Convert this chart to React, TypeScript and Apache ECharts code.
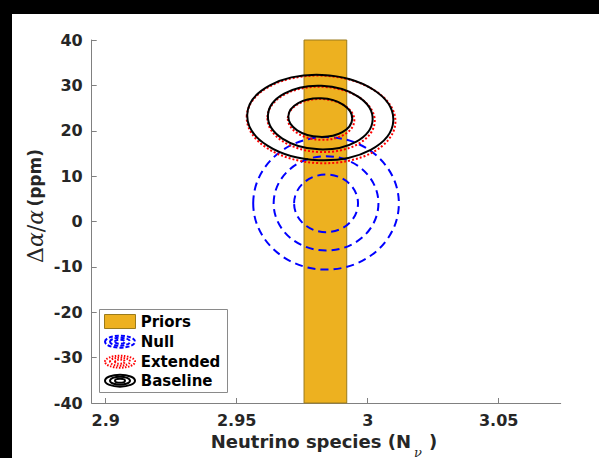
import React, { useEffect, useRef } from "react";
import * as echarts from "echarts";

// ---- data ----
const xTicks = [2.9, 2.95, 3, 3.05];
const xRange = [2.89466, 3.07366];
const yRange = [-40, 40];

const priorsX = [2.9757, 2.992];
const priorsY = [-40, 40];

const nullCenter = [2.9841, 4.0];
const nullRx = [0.0278, 0.02, 0.0122];
const nullRy = [14.6, 10.4, 6.35];

const extendedCenter = [2.9822, 22.5];
const extendedRx = [0.0284, 0.0205, 0.0127];
const extendedRy = [9.65, 7.2, 4.5];

const baselineCenter = [2.9819, 22.9];
const baselineRx = [0.0279, 0.02, 0.0122];
const baselineRy = [9.4, 7.0, 4.25];
const tilt = -0.04;

const legendNames = ["Priors", "Null", "Extended", "Baseline"];

const FONT = "DejaVu Sans";

function ellipseData(c: number[], rx: number[], ry: number[], rot: number) {
  return rx.map((r, i) => [c[0], c[1], r, ry[i], rot]);
}

function ellipseSeries(name: string, data: number[][], style: any) {
  return {
    type: "custom",
    name,
    encode: { x: 0, y: 1 },
    data,
    clip: false,
    renderItem: (params: any, api: any) => {
      const c = api.coord([api.value(0), api.value(1)]);
      const s = api.size([api.value(2), api.value(3)]);
      return {
        type: "ellipse",
        x: c[0],
        y: c[1],
        rotation: api.value(4),
        shape: { cx: 0, cy: 0, rx: s[0], ry: s[1] },
        style: { fill: "none", ...style },
      };
    },
  };
}

function legendIcon(cx: number, cy: number, style: any, n: number) {
  const els: any[] = [];
  const rxs = [15, 10, 5];
  const rys = [6, 4, 2];
  for (let i = 0; i < n; i++) {
    els.push({
      type: "ellipse",
      shape: { cx, cy, rx: rxs[i], ry: rys[i] },
      style: { fill: "none", ...style },
    });
  }
  return els;
}

export default function App() {
  const ref = useRef<HTMLDivElement>(null);
  useEffect(() => {
    if (!ref.current) return;
    const chart = echarts.init(ref.current, null, { renderer: "svg" });
    const axisLine = { show: true, onZero: false, lineStyle: { color: "#808080", width: 1 } };
    const labelStyle = { color: "#262626", fontFamily: FONT, fontWeight: "bold" as const, fontSize: 16 };
    const rowY = [321.7, 341.7, 361.7, 380.7];
    const option: any = {
      animation: false,
      backgroundColor: "#ffffff",
      grid: { left: 91.7, right: 38.3, top: 40, bottom: 55, containLabel: false },
      xAxis: {
        type: "value",
        min: xRange[0],
        max: xRange[1],
        axisLine,
        axisTick: { show: true, inside: true, length: 5, lineStyle: { color: "#808080" }, customValues: xTicks },
        axisLabel: { ...labelStyle, margin: 9, customValues: xTicks, formatter: (v: number) => String(+v.toFixed(2)) },
        splitLine: { show: false },
      },
      yAxis: {
        type: "value",
        min: yRange[0],
        max: yRange[1],
        interval: 10,
        axisLine,
        axisTick: { show: true, inside: true, length: 5, lineStyle: { color: "#808080" } },
        axisLabel: { ...labelStyle, margin: 9 },
        splitLine: { show: false },
      },
      series: [
        {
          type: "custom",
          name: legendNames[0],
          encode: { x: [0, 1], y: [2, 3] },
          data: [[priorsX[0], priorsX[1], priorsY[0], priorsY[1]]],
          renderItem: (params: any, api: any) => {
            const p0 = api.coord([api.value(0), api.value(3)]);
            const p1 = api.coord([api.value(1), api.value(2)]);
            return {
              type: "rect",
              shape: { x: p0[0], y: p0[1], width: p1[0] - p0[0], height: p1[1] - p0[1] },
              style: { fill: "#EDB120", stroke: "#9a7b1c", lineWidth: 1 },
            };
          },
        },
        ellipseSeries(legendNames[1], ellipseData(nullCenter, nullRx, nullRy, 0), {
          stroke: "#0000ff",
          lineWidth: 2,
          lineDash: [8, 5],
        }),
        ellipseSeries(legendNames[2], ellipseData(extendedCenter, extendedRx, extendedRy, tilt), {
          stroke: "#ff0000",
          lineWidth: 2,
          lineDash: [2, 2],
        }),
        ellipseSeries(legendNames[3], ellipseData(baselineCenter, baselineRx, baselineRy, tilt), {
          stroke: "#000000",
          lineWidth: 2,
        }),
      ],
      graphic: [
        { type: "rect", shape: { x: 0, y: 0, width: 599, height: 14 }, style: { fill: "#000" } },
        { type: "rect", shape: { x: 0, y: 0, width: 12, height: 458 }, style: { fill: "#000" } },
        {
          type: "text",
          x: 35,
          y: 206,
          rotation: Math.PI / 2,
          style: {
            text: "{d|Δ}{a|α}{d|/}{a|α} {b|(ppm)}",
            align: "center",
            verticalAlign: "middle",
            fill: "#262626",
            rich: {
              d: { fontFamily: "DejaVu Serif", fontSize: 22, fill: "#262626" },
              a: { fontFamily: "DejaVu Serif", fontStyle: "italic", fontSize: 22, fill: "#262626" },
              b: { fontFamily: FONT, fontWeight: "bold", fontSize: 17, fill: "#262626" },
            },
          },
        },
        {
          type: "text",
          x: 210.7,
          y: 441.7,
          style: {
            text: "Neutrino species (N",
            fontFamily: FONT,
            fontWeight: "bold",
            fontSize: 18,
            fill: "#262626",
            align: "left",
            verticalAlign: "middle",
          },
        },
        {
          type: "text",
          x: 418,
          y: 452,
          style: {
            text: "ν",
            fontFamily: "DejaVu Serif",
            fontStyle: "italic",
            fontSize: 13,
            fill: "#262626",
            align: "center",
            verticalAlign: "middle",
          },
        },
        {
          type: "text",
          x: 429,
          y: 441.7,
          style: {
            text: ")",
            fontFamily: FONT,
            fontWeight: "bold",
            fontSize: 18,
            fill: "#262626",
            align: "left",
            verticalAlign: "middle",
          },
        },
        {
          type: "rect",
          shape: { x: 99.5, y: 309.5, width: 128, height: 83 },
          style: { fill: "#ffffff", stroke: "#8a8a8a", lineWidth: 1 },
        },
        {
          type: "rect",
          shape: { x: 104.5, y: 314.5, width: 31, height: 14 },
          style: { fill: "#EDB120", stroke: "#9a7b1c", lineWidth: 1 },
        },
        ...legendIcon(120, rowY[1], { stroke: "#0000ff", lineWidth: 2, lineDash: [4, 2] }, 3),
        ...legendIcon(120, rowY[2], { stroke: "#ff0000", lineWidth: 2, lineDash: [1.5, 1.5] }, 3),
        ...legendIcon(120, rowY[3], { stroke: "#000000", lineWidth: 2 }, 3),
        ...legendNames.map((n, i) => ({
          type: "text",
          x: 140.7,
          y: rowY[i],
          style: {
            text: n,
            fontFamily: FONT,
            fontWeight: "bold",
            fontSize: 15,
            fill: "#000000",
            align: "left",
            verticalAlign: "middle",
          },
        })),
      ],
    };
    chart.setOption(option);
    return () => chart.dispose();
  }, []);
  return (
    <div
      ref={ref}
      style={{ position: "fixed", left: 0, top: 0, width: 599, height: 458, background: "#fff" }}
    />
  );
}
